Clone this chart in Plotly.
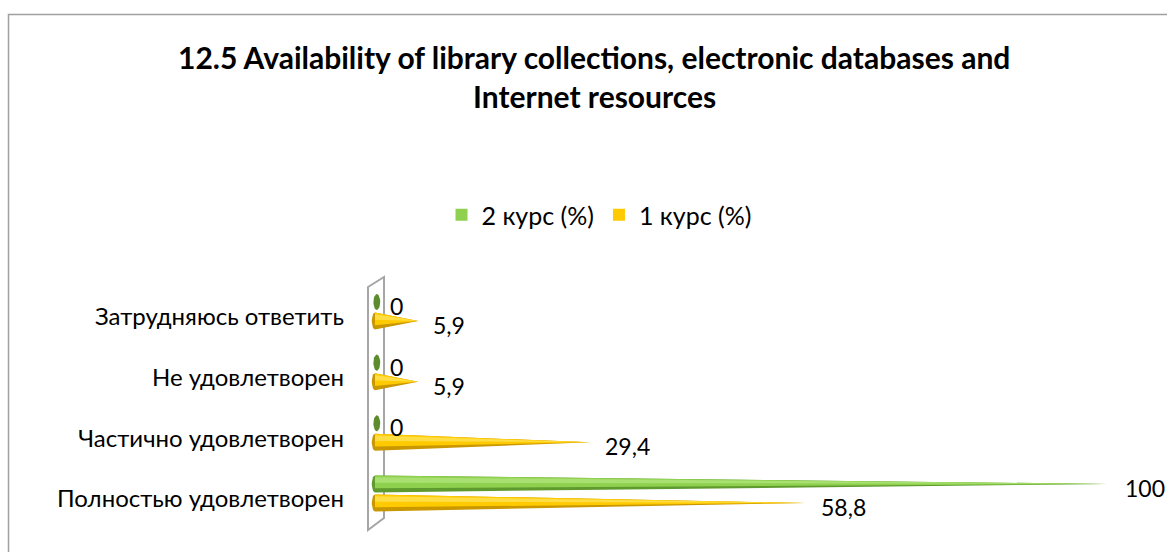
import numpy as np
import plotly.graph_objects as go

# ---------------- data ----------------
categories = ["Затрудняюсь ответить", "Не удовлетворен", "Частично удовлетворен", "Полностью удовлетворен"]
series_names = ["2 курс (%)", "1 курс (%)"]
course2 = [0, 0, 0, 100]
course1 = [5.9, 5.9, 29.4, 58.8]
value_labels2 = ["0", "0", "0", "100"]
value_labels1 = ["5,9", "5,9", "29,4", "58,8"]
title_lines = ["12.5 Availability of library collections, electronic databases and",
               "Internet resources"]

# ---------------- styling ----------------
W, H = 1167, 552
ML, MR, MT, MB = 353, 23, 257, 4
XR = [-3, 105]
YR = [3.9, -0.9]
FONT = "Lato, 'Open Sans', sans-serif"
OFF = 0.157      # series offset within a category (y units)
HH = 0.14        # cone half height (y units)

pal = {
    "green": dict(dark="#5E9A2E", mid="#8FD14F", light="#A8E072", base="#5C8C2E"),
    "yellow": dict(dark="#C99700", mid="#FFCA00", light="#FFDD44", base="#C99400"),
}

pw = W - ML - MR
ph = H - MT - MB
xs = pw / (XR[1] - XR[0])
ys = ph / (YR[0] - YR[1])


def px_to_paper_x(px):
    return (px - ML) / pw


def px_to_paper_y(py):
    return (H - MB - py) / ph


def py_to_y(py):
    return YR[1] + (py - MT) / ys


def px_to_x(px):
    return XR[0] + (px - ML) / xs


fig = go.Figure()


def add_cone(v, yc, p):
    rx = 3.2 / xs  # base ellipse half-width in x units
    if v <= 0:
        t = np.linspace(0, 2 * np.pi, 40)
        ex = 0.25 + (3.4 / xs) * np.cos(t)
        ey = yc + HH * 0.95 * np.sin(t)
        fig.add_trace(go.Scatter(x=ex, y=ey, fill="toself", mode="lines",
                                 line=dict(width=0), fillcolor=p["base"],
                                 hoverinfo="skip", showlegend=False))
        return
    bands = [(-1.0, 1.0, p["dark"]), (-1.0, 0.5, p["mid"]), (-0.8, -0.15, p["light"])]
    for a, b, col in bands:
        top = yc + a * HH
        bot = yc + b * HH
        if a == -1.0 and b == 1.0:
            t = np.linspace(np.pi / 2, 3 * np.pi / 2, 14)
            xx = [0, v, 0] + list(rx * np.cos(t)) + [0]
            yy = [top, yc, bot] + list(yc + HH * np.sin(t)) + [top]
        else:
            xx = [0, v, 0, 0]
            yy = [top, yc, bot, top]
        fig.add_trace(go.Scatter(x=xx, y=yy, fill="toself", mode="lines",
                                 line=dict(width=0), fillcolor=col,
                                 hoverinfo="skip", showlegend=False))


for i, cat in enumerate(categories):
    add_cone(course2[i], i - OFF, pal["green"])
    add_cone(course1[i], i + OFF, pal["yellow"])

# legend entries
fig.add_trace(go.Scatter(x=[None], y=[None], mode="markers", name=series_names[0],
                         marker=dict(symbol="square", size=12, color=pal["green"]["mid"])))
fig.add_trace(go.Scatter(x=[None], y=[None], mode="markers", name=series_names[1],
                         marker=dict(symbol="square", size=12, color=pal["yellow"]["mid"])))

VAL_SIZE = 23
annotations = []
for i in range(len(categories)):
    annotations.append(dict(x=course2[i], y=i - OFF, xref="x", yref="y", text=value_labels2[i],
                            showarrow=False, xanchor="left", yanchor="middle",
                            xshift=13 if course2[i] == 0 else 16, yshift=-4,
                            font=dict(family=FONT, size=VAL_SIZE, color="#000")))
    annotations.append(dict(x=course1[i], y=i + OFF, xref="x", yref="y", text=value_labels1[i],
                            showarrow=False, xanchor="left", yanchor="middle",
                            xshift=13, yshift=-4,
                            font=dict(family=FONT, size=VAL_SIZE, color="#000")))

title_y = [57, 96]
for ln, ty in zip(title_lines, title_y):
    annotations.append(dict(x=px_to_paper_x(594), y=px_to_paper_y(ty), xref="paper", yref="paper",
                            text="<b>%s</b>" % ln, showarrow=False, xanchor="center",
                            yanchor="middle", font=dict(family=FONT, size=30, color="#000")))

wx0 = px_to_x(368)
wx1 = px_to_x(384)
wall_path = "M %f,%f L %f,%f L %f,%f L %f,%f Z" % (
    wx0, py_to_y(287), wx1, py_to_y(277), wx1, py_to_y(518), wx0, py_to_y(530))
shapes = [
    dict(type="path", path=wall_path, xref="x", yref="y", layer="below",
         line=dict(color="#A6A6A6", width=2), fillcolor="rgba(0,0,0,0)"),
    dict(type="rect", xref="paper", yref="paper",
         x0=px_to_paper_x(8.5), x1=px_to_paper_x(1175), y0=px_to_paper_y(560), y1=px_to_paper_y(14.5),
         line=dict(color="#A0A0A0", width=1.5), fillcolor="rgba(0,0,0,0)", layer="below"),
]

fig.update_layout(
    width=W, height=H,
    margin=dict(l=ML, r=MR, t=MT, b=MB, autoexpand=False),
    paper_bgcolor="white", plot_bgcolor="rgba(0,0,0,0)",
    showlegend=True,
    legend=dict(orientation="h", xref="container", yref="container",
                x=599 / W, y=1 - 215 / H, xanchor="center", yanchor="middle",
                font=dict(family=FONT, size=25, color="#000"), itemwidth=30,
                bgcolor="rgba(0,0,0,0)"),
    xaxis=dict(range=XR, visible=False, fixedrange=True),
    yaxis=dict(range=YR, tickvals=[i + 0.09 for i in range(len(categories))], ticktext=categories,
               showgrid=False, zeroline=False, showline=False, ticks="",
               ticklabelstandoff=8, automargin=False, fixedrange=True,
               tickfont=dict(family=FONT, size=24, color="#000")),
    annotations=annotations,
    shapes=shapes,
    hovermode=False,
)

fig.write_html("out.html", config={"displayModeBar": False},
               post_script="document.body.style.margin='0';")
